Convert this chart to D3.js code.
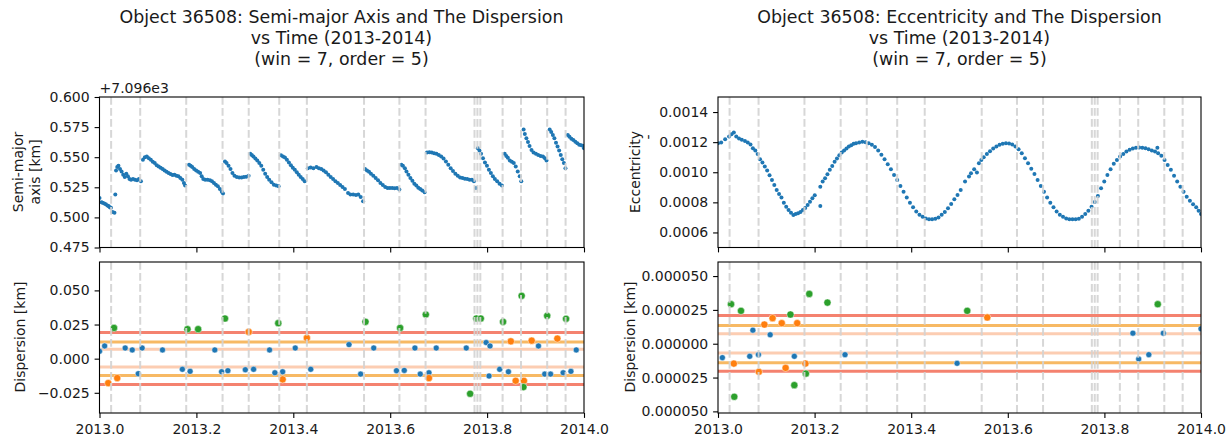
<!DOCTYPE html>
<html>
<head>
<meta charset="utf-8">
<script src="https://cdnjs.cloudflare.com/ajax/libs/d3/7.8.5/d3.min.js"></script>
<style>
body { margin: 0; background: #fff; }
svg text { font-family: "DejaVu Sans", sans-serif; fill: #1a1a1a; }
</style>
</head>
<body>
<div id="chart"></div>
<script>
// global variables
var WIDTH = 1232;
var HEIGHT = 441;
var SMA_OFFSET = 7096;

// epochs of the manoeuvres (dashed lines), fractional year
var eventTimes = [2013.024, 2013.084, 2013.179, 2013.254, 2013.308, 2013.371, 2013.428,
    2013.546, 2013.619, 2013.673, 2013.774, 2013.780, 2013.786, 2013.832, 2013.870,
    2013.924, 2013.962];

var xTicks = [2013.0, 2013.2, 2013.4, 2013.6, 2013.8, 2014.0];
var smaTicks = [0.475, 0.500, 0.525, 0.550, 0.575, 0.600];   // shown relative to offset
var eccTicks = [0.0006, 0.0008, 0.0010, 0.0012, 0.0014];
var smaDispTicks = [-0.025, 0.000, 0.025, 0.050];
var eccDispTicks = [-0.000050, -0.000025, 0.000000, 0.000025, 0.000050];

// semi-major axis [km] vs time
var smaPoints = [
 [2013.0000,7096.5162],[2013.0041,7096.5126],[2013.0065,7096.5121],[2013.0098,7096.5115],[2013.0130,7096.5110],
 [2013.0163,7096.5099],[2013.0187,7096.5094],[2013.0212,7096.5085],[2013.0236,7096.5080],[2013.0269,7096.5044],
 [2013.0309,7096.5039],[2013.0326,7096.5190],
 [2013.0342,7096.5390],[2013.0366,7096.5418],[2013.0391,7096.5429],[2013.0423,7096.5401],[2013.0456,7096.5382],
 [2013.0489,7096.5354],[2013.0521,7096.5335],[2013.0554,7096.5363],[2013.0586,7096.5341],[2013.0619,7096.5319],
 [2013.0651,7096.5313],[2013.0692,7096.5319],[2013.0733,7096.5313],[2013.0774,7096.5308],[2013.0814,7096.5319],
 [2013.0855,7096.5300],
 [2013.0896,7096.5478],[2013.0936,7096.5500],[2013.0977,7096.5506],[2013.1018,7096.5492],[2013.1059,7096.5478],
 [2013.1099,7096.5462],[2013.1140,7096.5451],[2013.1181,7096.5434],[2013.1221,7096.5423],[2013.1262,7096.5412],
 [2013.1303,7096.5401],[2013.1344,7096.5390],[2013.1384,7096.5379],[2013.1425,7096.5368],[2013.1466,7096.5360],
 [2013.1507,7096.5352],[2013.1547,7096.5354],[2013.1588,7096.5346],[2013.1629,7096.5341],[2013.1669,7096.5327],
 [2013.1710,7096.5313],[2013.1743,7096.5286],[2013.1767,7096.5264],
 [2013.1849,7096.5437],[2013.1881,7096.5429],[2013.1914,7096.5418],[2013.1954,7096.5401],[2013.1995,7096.5390],
 [2013.2036,7096.5379],[2013.2077,7096.5368],[2013.2109,7096.5341],[2013.2142,7096.5319],[2013.2182,7096.5313],
 [2013.2231,7096.5313],[2013.2280,7096.5308],[2013.2321,7096.5300],[2013.2362,7096.5286],[2013.2402,7096.5272],
 [2013.2443,7096.5258],[2013.2484,7096.5236],[2013.2524,7096.5214],[2013.2549,7096.5198],
 [2013.2590,7096.5464],[2013.2622,7096.5451],[2013.2663,7096.5429],[2013.2704,7096.5401],[2013.2744,7096.5368],
 [2013.2785,7096.5346],[2013.2834,7096.5335],[2013.2883,7096.5332],[2013.2932,7096.5332],[2013.2980,7096.5335],
 [2013.3029,7096.5338],[2013.3078,7096.5346],
 [2013.3111,7096.5528],[2013.3143,7096.5519],[2013.3176,7096.5506],[2013.3217,7096.5489],[2013.3257,7096.5473],
 [2013.3298,7096.5451],[2013.3339,7096.5429],[2013.3380,7096.5396],[2013.3420,7096.5363],[2013.3461,7096.5335],
 [2013.3502,7096.5313],[2013.3550,7096.5291],[2013.3599,7096.5272],[2013.3648,7096.5264],[2013.3697,7096.5258],
 [2013.3746,7096.5517],[2013.3787,7096.5506],[2013.3827,7096.5497],[2013.3868,7096.5478],[2013.3909,7096.5456],
 [2013.3950,7096.5434],[2013.3990,7096.5412],[2013.4031,7096.5396],[2013.4072,7096.5374],[2013.4112,7096.5354],
 [2013.4153,7096.5335],[2013.4194,7096.5319],[2013.4235,7096.5300],
 [2013.4300,7096.5409],[2013.4357,7096.5415],[2013.4414,7096.5409],[2013.4479,7096.5418],[2013.4528,7096.5409],
 [2013.4577,7096.5401],[2013.4625,7096.5390],[2013.4674,7096.5374],[2013.4723,7096.5354],[2013.4772,7096.5335],
 [2013.4821,7096.5319],[2013.4870,7096.5300],[2013.4919,7096.5286],[2013.4967,7096.5269],[2013.5016,7096.5253],
 [2013.5065,7096.5236],[2013.5130,7096.5203],[2013.5179,7096.5190],[2013.5236,7096.5190],[2013.5293,7096.5187],
 [2013.5342,7096.5190],[2013.5391,7096.5170],[2013.5440,7096.5135],
 [2013.5480,7096.5401],[2013.5521,7096.5390],[2013.5562,7096.5379],[2013.5603,7096.5363],[2013.5651,7096.5346],
 [2013.5700,7096.5327],[2013.5749,7096.5308],[2013.5798,7096.5286],[2013.5847,7096.5269],[2013.5896,7096.5253],
 [2013.5945,7096.5245],[2013.5993,7096.5245],[2013.6042,7096.5245],[2013.6091,7096.5242],[2013.6140,7096.5245],
 [2013.6189,7096.5231],
 [2013.6230,7096.5437],[2013.6262,7096.5429],[2013.6303,7096.5409],[2013.6336,7096.5382],[2013.6376,7096.5354],
 [2013.6417,7096.5327],[2013.6458,7096.5305],[2013.6498,7096.5280],[2013.6539,7096.5264],[2013.6580,7096.5247],
 [2013.6620,7096.5236],[2013.6661,7096.5223],[2013.6710,7096.5209],
 [2013.6759,7096.5538],[2013.6808,7096.5541],[2013.6857,7096.5538],[2013.6906,7096.5533],[2013.6954,7096.5528],
 [2013.7003,7096.5519],[2013.7052,7096.5506],[2013.7101,7096.5489],[2013.7150,7096.5464],[2013.7199,7096.5437],
 [2013.7248,7096.5409],[2013.7296,7096.5385],[2013.7345,7096.5363],[2013.7394,7096.5346],[2013.7443,7096.5332],
 [2013.7492,7096.5327],[2013.7541,7096.5321],[2013.7590,7096.5319],[2013.7638,7096.5313],[2013.7687,7096.5313],
 [2013.7728,7096.5300],[2013.7769,7096.5245],
 [2013.7809,7096.5574],[2013.7842,7096.5555],[2013.7875,7096.5528],[2013.7915,7096.5492],[2013.7956,7096.5456],
 [2013.7997,7096.5429],[2013.8037,7096.5396],[2013.8078,7096.5368],[2013.8119,7096.5341],[2013.8160,7096.5319],
 [2013.8208,7096.5300],[2013.8257,7096.5280],[2013.8306,7096.5264],
 [2013.8363,7096.5528],[2013.8396,7096.5511],[2013.8428,7096.5495],[2013.8469,7096.5473],[2013.8510,7096.5462],
 [2013.8550,7096.5451],[2013.8591,7096.5423],[2013.8632,7096.5382],[2013.8673,7096.5341],[2013.8705,7096.5300],
 [2013.8754,7096.5731],[2013.8779,7096.5692],[2013.8811,7096.5657],[2013.8844,7096.5626],[2013.8876,7096.5593],
 [2013.8917,7096.5560],[2013.8958,7096.5538],[2013.9007,7096.5528],[2013.9055,7096.5519],[2013.9104,7096.5511],
 [2013.9153,7096.5506],[2013.9194,7096.5492],[2013.9226,7096.5473],
 [2013.9292,7096.5731],[2013.9324,7096.5709],[2013.9357,7096.5684],[2013.9389,7096.5657],[2013.9422,7096.5621],
 [2013.9454,7096.5588],[2013.9487,7096.5555],[2013.9520,7096.5519],[2013.9552,7096.5484],[2013.9585,7096.5451],
 [2013.9617,7096.5409],
 [2013.9666,7096.5684],[2013.9699,7096.5670],[2013.9739,7096.5654],[2013.9780,7096.5643],[2013.9821,7096.5629],
 [2013.9862,7096.5615],[2013.9902,7096.5604],[2013.9943,7096.5599],[2013.9984,7096.5593],[2014.0000,7096.5574]
];

// eccentricity vs time
var eccPoints = [
 [2013.0000,0.001193],[2013.0066,0.001198],[2013.0148,0.001220],[2013.0230,0.001238],[2013.0279,0.001253],
 [2013.0328,0.001264],[2013.0378,0.001238],[2013.0435,0.001224],[2013.0493,0.001216],[2013.0558,0.001207],
 [2013.0616,0.001198],[2013.0673,0.001184],[2013.0722,0.001160],[2013.0772,0.001144],[2013.0821,0.001122],
 [2013.0870,0.001087],[2013.0920,0.001064],[2013.0969,0.001038],[2013.1018,0.001011],[2013.1067,0.000980],
 [2013.1117,0.000949],[2013.1166,0.000916],[2013.1215,0.000882],[2013.1264,0.000856],[2013.1314,0.000833],
 [2013.1363,0.000798],[2013.1412,0.000771],[2013.1461,0.000749],[2013.1511,0.000731],[2013.1560,0.000716],
 [2013.1609,0.000722],[2013.1658,0.000727],[2013.1708,0.000736],[2013.1757,0.000749],[2013.1806,0.000762],
 [2013.1856,0.000782],[2013.1905,0.000804],[2013.1954,0.000827],[2013.2003,0.000847],[2013.2118,0.000776],
 [2013.2118,0.000904],[2013.2167,0.000938],[2013.2217,0.000960],[2013.2266,0.000987],[2013.2315,0.001016],
 [2013.2365,0.001042],[2013.2414,0.001069],[2013.2463,0.001091],[2013.2512,0.001113],[2013.2562,0.001131],
 [2013.2611,0.001144],[2013.2660,0.001158],[2013.2709,0.001171],[2013.2759,0.001180],[2013.2808,0.001189],
 [2013.2857,0.001193],[2013.2923,0.001198],[2013.2989,0.001202],[2013.3054,0.001200],[2013.3120,0.001193],
 [2013.3186,0.001182],[2013.3251,0.001167],[2013.3317,0.001144],[2013.3383,0.001116],[2013.3448,0.001087],
 [2013.3514,0.001053],[2013.3580,0.001020],[2013.3645,0.000982],[2013.3711,0.000949],[2013.3777,0.000909],
 [2013.3842,0.000871],[2013.3908,0.000833],[2013.3974,0.000798],[2013.4039,0.000767],[2013.4105,0.000740],
 [2013.4171,0.000718],[2013.4236,0.000704],[2013.4302,0.000693],[2013.4368,0.000687],[2013.4433,0.000687],
 [2013.4499,0.000691],[2013.4565,0.000700],[2013.4631,0.000718],[2013.4696,0.000736],[2013.4762,0.000760],
 [2013.4828,0.000789],[2013.4893,0.000820],[2013.4959,0.000849],[2013.5025,0.000882],[2013.5115,0.000938],
 [2013.5197,0.000971],[2013.5238,0.000993],[2013.5304,0.001020],[2013.5361,0.000998],[2013.5402,0.001060],
 [2013.5452,0.001082],[2013.5501,0.001100],[2013.5567,0.001122],[2013.5632,0.001140],[2013.5698,0.001158],
 [2013.5764,0.001171],[2013.5829,0.001182],[2013.5895,0.001189],[2013.5961,0.001193],[2013.6026,0.001191],
 [2013.6092,0.001184],[2013.6158,0.001171],[2013.6223,0.001153],[2013.6289,0.001127],[2013.6355,0.001093],
 [2013.6420,0.001060],[2013.6486,0.001024],[2013.6552,0.000989],[2013.6617,0.000949],[2013.6683,0.000909],
 [2013.6749,0.000871],[2013.6814,0.000833],[2013.6880,0.000798],[2013.6946,0.000767],[2013.7011,0.000740],
 [2013.7077,0.000718],[2013.7143,0.000704],[2013.7209,0.000693],[2013.7274,0.000687],[2013.7340,0.000687],
 [2013.7406,0.000687],[2013.7471,0.000691],[2013.7537,0.000704],[2013.7603,0.000722],[2013.7668,0.000744],
 [2013.7734,0.000771],[2013.7800,0.000802],[2013.7865,0.000842],[2013.7931,0.000893],[2013.7997,0.000938],
 [2013.8062,0.000982],[2013.8128,0.001020],[2013.8194,0.001056],[2013.8259,0.001082],[2013.8325,0.001104],
 [2013.8391,0.001122],[2013.8456,0.001138],[2013.8522,0.001149],[2013.8588,0.001158],[2013.8654,0.001162],
 [2013.8719,0.001164],[2013.8785,0.001162],[2013.8851,0.001160],[2013.8916,0.001153],[2013.8982,0.001144],
 [2013.9048,0.001138],[2013.9097,0.001162],[2013.9113,0.001127],[2013.9179,0.001109],[2013.9245,0.001082],
 [2013.9310,0.001049],[2013.9376,0.001016],[2013.9442,0.000976],[2013.9507,0.000938],[2013.9573,0.000904],
 [2013.9639,0.000871],[2013.9704,0.000838],[2013.9770,0.000811],[2013.9836,0.000787],[2013.9901,0.000767],
 [2013.9951,0.000744],[2014.0000,0.000722]
];

// dispersion of the semi-major axis [km]: within band / between bands / outliers
var smaDispInner = [
 [2013.000,0.0054],[2013.0106,0.0093],[2013.053,0.0078],[2013.0676,0.0064],[2013.080,-0.0110],[2013.088,0.0078],
 [2013.130,0.0064],[2013.171,-0.0078],[2013.187,-0.0093],[2013.238,0.0064],[2013.252,-0.0096],[2013.265,-0.0088],
 [2013.301,-0.0081],[2013.318,-0.0078],[2013.351,0.0064],[2013.362,-0.0103],[2013.378,-0.0096],[2013.404,0.0078],
 [2013.436,-0.0078],[2013.515,0.0103],[2013.539,-0.0113],[2013.566,0.0078],[2013.613,-0.0088],[2013.629,-0.0086],
 [2013.651,0.0078],[2013.662,-0.0113],[2013.680,-0.0103],[2013.695,0.0078],[2013.757,0.0078],[2013.798,0.0118],
 [2013.806,0.0093],[2013.804,-0.0127],[2013.826,-0.0078],[2013.844,-0.0096],[2013.906,0.0093],[2013.919,-0.0113],
 [2013.931,-0.0113],[2013.957,-0.0103],[2013.973,-0.0093],[2013.984,0.0064]
];
var smaDispMiddle = [
 [2013.018,-0.0179],[2013.0366,-0.0142],[2013.308,0.0196],[2013.378,-0.0152],[2013.428,0.0152],[2013.680,-0.0142],
 [2013.849,0.0127],[2013.859,-0.0162],[2013.876,-0.0162],[2013.892,0.0132],[2013.945,0.0147]
];
var smaDispOuter = [
 [2013.030,0.0225],[2013.1816,0.0216],[2013.2036,0.0216],[2013.259,0.0294],[2013.369,0.0260],[2013.549,0.0270],
 [2013.6205,0.0225],[2013.6735,0.0323],[2013.765,-0.0257],[2013.7777,0.0294],[2013.787,0.0294],[2013.833,0.0270],
 [2013.8713,0.0460],[2013.875,-0.0208],[2013.924,0.0314],[2013.963,0.0292]
];
var smaBand1 = [0.0069, -0.0061];
var smaBand2 = [0.01225, -0.01225];
var smaBand3 = [0.0191, -0.0189];

// dispersion of the eccentricity
var eccDispInner = [
 [2013.009,-0.0000103],[2013.0657,-0.0000093],[2013.0722,0.0000100],[2013.0837,-0.0000081],[2013.108,0.0000066],
 [2013.158,-0.0000093],[2013.263,-0.0000081],[2013.495,-0.0000145],[2013.859,0.0000078],[2013.871,-0.0000113],
 [2013.892,-0.0000081],[2013.922,0.0000078],[2014.000,0.0000110]
];
var eccDispMiddle = [
 [2013.0328,-0.0000147],[2013.0846,-0.0000208],[2013.096,0.0000142],[2013.113,0.0000189],[2013.132,0.0000152],
 [2013.140,-0.0000179],[2013.164,0.0000152],[2013.181,-0.0000147],[2013.5575,0.0000194]
];
var eccDispOuter = [
 [2013.027,0.0000292],[2013.0337,-0.0000392],[2013.0476,0.0000243],[2013.150,0.0000216],[2013.158,-0.0000306],
 [2013.182,-0.0000221],[2013.189,0.0000368],[2013.2266,0.0000304],[2013.516,0.0000243],[2013.9105,0.0000292]
];
var eccBand1 = [0.0000074, -0.0000069];
var eccBand2 = [0.0000135, -0.0000140];
var eccBand3 = [0.0000208, -0.0000203];

var BLUE = "#1f77b4", ORANGE = "#ff7f0e", GREEN = "#2ca02c";
var BAND_COLORS = ["#fccdb2", "#f7b964", "#f4826f"];

var svg = d3.select("#chart").append("svg")
    .attr("width", WIDTH)
    .attr("height", HEIGHT);

// draw the frame, ticks and clip of one axes box
function makeAxes(id, x0, x1, y0, y1, xDomain, yDomain) {
    var xs = d3.scaleLinear().domain(xDomain).range([x0, x1]);
    var ys = d3.scaleLinear().domain(yDomain).range([y1, y0]);
    svg.append("clipPath").attr("id", id)
        .append("rect").attr("x", x0).attr("y", y0)
        .attr("width", x1 - x0).attr("height", y1 - y0);
    var g = svg.append("g").attr("clip-path", "url(#" + id + ")");
    return {xs: xs, ys: ys, g: g, x0: x0, x1: x1, y0: y0, y1: y1};
}

function finishAxes(ax, yTicks, yFormat, showXLabels) {
    // dashed event lines on top of the points
    ax.g.selectAll(".ev").data(eventTimes).enter().append("line")
        .attr("x1", d => ax.xs(d)).attr("x2", d => ax.xs(d))
        .attr("y1", ax.y0).attr("y2", ax.y1)
        .attr("stroke", "#d3d3d3").attr("stroke-width", 2)
        .attr("stroke-dasharray", "7.7,3.3")
        .attr("opacity", 0.9);

    var ya = svg.append("g").attr("transform", "translate(" + ax.x0 + ",0)")
        .call(d3.axisLeft(ax.ys).tickValues(yTicks).tickFormat(yFormat)
            .tickSize(4.9).tickPadding(4.9));
    var xa = svg.append("g").attr("transform", "translate(0," + ax.y1 + ")")
        .call(d3.axisBottom(ax.xs).tickValues(xTicks)
            .tickFormat(showXLabels ? (d => d.toFixed(1)) : "")
            .tickSize(4.9).tickPadding(6));
    [ya, xa].forEach(function(a) {
        a.select(".domain").remove();
        a.selectAll("line").attr("stroke", "#000").attr("stroke-width", 1.1);
        a.selectAll("text").attr("font-size", 14).attr("font-family", "DejaVu Sans")
            .attr("fill", "#1a1a1a");
    });

    svg.append("rect").attr("x", ax.x0).attr("y", ax.y0)
        .attr("width", ax.x1 - ax.x0).attr("height", ax.y1 - ax.y0)
        .attr("fill", "none").attr("stroke", "#000").attr("stroke-width", 1.1);
}

function drawSeries(ax, data) {
    ax.g.selectAll(".pt").data(data).enter().append("circle")
        .attr("cx", d => ax.xs(d[0])).attr("cy", d => ax.ys(d[1]))
        .attr("r", 2).attr("fill", BLUE);
}

function drawDispersion(ax, inner, middle, outer, bands) {
    bands.forEach(function(levels, i) {
        ax.g.selectAll(".band" + i).data(levels).enter().append("line")
            .attr("x1", ax.x0).attr("x2", ax.x1)
            .attr("y1", d => ax.ys(d)).attr("y2", d => ax.ys(d))
            .attr("stroke", BAND_COLORS[i]).attr("stroke-width", 3);
    });
    [[inner, BLUE, 3], [middle, ORANGE, 3.6], [outer, GREEN, 3.6]].forEach(function(s) {
        ax.g.selectAll(null).data(s[0]).enter().append("circle")
            .attr("cx", d => ax.xs(d[0])).attr("cy", d => ax.ys(d[1]))
            .attr("r", s[2]).attr("fill", s[1])
            .attr("stroke", "#ffffff").attr("stroke-opacity", 0.6).attr("stroke-width", 0.8);
    });
}

function yLabel(lines, cy) {
    lines.forEach(function(l) {
        svg.append("text")
            .attr("transform", "translate(" + l[1] + "," + (l[2] || cy) + ") rotate(-90)")
            .attr("text-anchor", "middle")
            .attr("dominant-baseline", "central")
            .attr("font-size", 14)
            .text(l[0]);
    });
}

function title(lines, cx) {
    lines.forEach(function(l, i) {
        svg.append("text").attr("x", cx).attr("y", 23 + i * 21)
            .attr("text-anchor", "middle").attr("font-size", 17.4)
            .text(l);
    });
}

var xDomain = [2013.0, 2014.0];

// left column: semi-major axis
var smaAx = makeAxes("c1", 99.5, 584, 97, 247.5, xDomain, [SMA_OFFSET + 0.475, SMA_OFFSET + 0.600]);
drawSeries(smaAx, smaPoints);
finishAxes(smaAx, smaTicks.map(d => SMA_OFFSET + d), d => (d - SMA_OFFSET).toFixed(3), false);

var smaDispAx = makeAxes("c2", 99.5, 584, 262, 413, xDomain, [-0.0398, 0.0708]);
drawDispersion(smaDispAx, smaDispInner, smaDispMiddle, smaDispOuter, [smaBand1, smaBand2, smaBand3]);
finishAxes(smaDispAx, smaDispTicks, d => d3.format(".3f")(d).replace("-", "\u2212"), true);

// right column: eccentricity
var eccAx = makeAxes("c3", 718, 1201, 97, 247.5, xDomain, [0.0005, 0.0015]);
drawSeries(eccAx, eccPoints);
finishAxes(eccAx, eccTicks, d => d.toFixed(4), false);

// the picture shows these labels without a sign
var eccDispAx = makeAxes("c4", 718, 1201, 262, 413, xDomain, [-0.0000512, 0.0000604]);
drawDispersion(eccDispAx, eccDispInner, eccDispMiddle, eccDispOuter, [eccBand1, eccBand2, eccBand3]);
finishAxes(eccDispAx, eccDispTicks, d => Math.abs(d).toFixed(6), true);

// offset text of the semi-major axis
svg.append("text").attr("x", 99.5).attr("y", 93).attr("font-size", 14).text("+7.096e3");

// titles
title(["Object 36508: Semi-major Axis and The Dispersion", "vs Time (2013-2014)", "(win = 7, order = 5)"], 341.5);
title(["Object 36508: Eccentricity and The Dispersion", "vs Time (2013-2014)", "(win = 7, order = 5)"], 959.5);

// axis labels
yLabel([["Semi-major", 18], ["axis [km]", 35]], 172);
yLabel([["Dispersion [km]", 20]], 337);
yLabel([["Eccentricity", 635], ["-", 648, 137]], 172);
yLabel([["Dispersion [km]", 630]], 337);
</script>
</body>
</html>
